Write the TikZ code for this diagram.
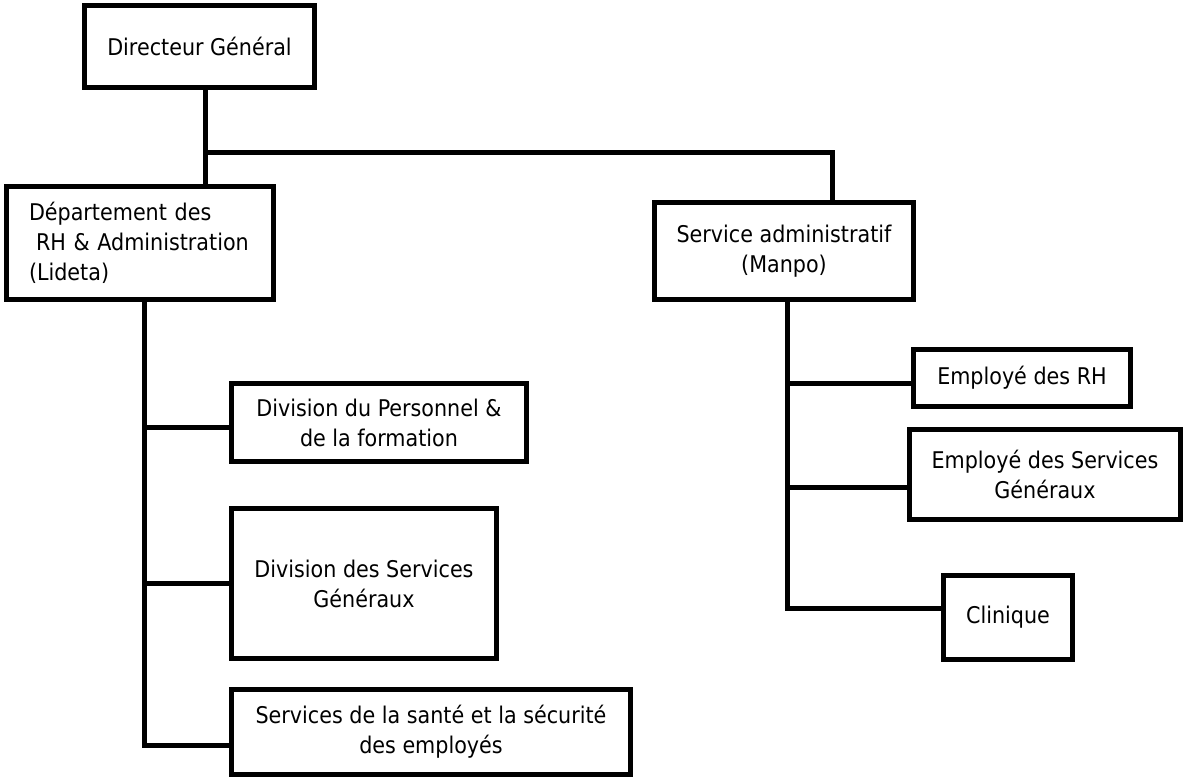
\documentclass[tikz,border=0pt]{standalone}
\usepackage{fontspec}
\setmainfont{DejaVu Sans Condensed}
\usetikzlibrary{calc}
\tikzset{
  box/.style={draw=black, line width=5pt, rectangle, align=center, inner sep=0pt,
    font=\fontsize{23}{30}\selectfont},
  link/.style={draw=black, line width=5pt}
}
\begin{document}
\begin{tikzpicture}[x=1pt,y=-1pt]
\useasboundingbox (0,0) rectangle (1184,779);
% nodes
\node[box, minimum width=230pt, minimum height=82pt] (dg) at (199.5,46.5) {Directeur Général};
\node[box, minimum width=267pt, minimum height=113pt, text width=222pt, inner xsep=22.5pt, align=left] (dept) at (140,243)
  {Département des\\\hspace*{7pt}RH \& Administration\\(Lideta)};
\node[box, minimum width=259pt, minimum height=97pt] (sa) at (784,251) {Service administratif\\(Manpo)};
\node[box, minimum width=295pt, minimum height=78pt] (dp) at (379,422.5) {Division du Personnel \&\\de la formation};
\node[box, minimum width=265pt, minimum height=150pt] (dsg) at (364,583.5) {Division des Services\\Généraux};
\node[box, minimum width=399pt, minimum height=85pt] (sse) at (431,732) {Services de la santé et la sécurité\\des employés};
\node[box, minimum width=217pt, minimum height=57pt] (erh) at (1022,378) {Employé des RH};
\node[box, minimum width=271pt, minimum height=90pt] (esg) at (1045,474.5) {Employé des Services\\Généraux};
\node[box, minimum width=129pt, minimum height=84pt] (cli) at (1008,617.5) {Clinique};
% junctions
\coordinate (j1) at (205,152);
\coordinate (j2) at (832,152);
\coordinate (d1) at (144,427);
\coordinate (d2) at (144,583);
\coordinate (d3) at (144,745);
\coordinate (s1) at (787,383);
\coordinate (s2) at (787,487);
\coordinate (s3) at (787,608);
% connectors
\draw[link] (dg.south -| j1) -- (dept.north -| j1);
\draw[link] (j1) -- (j2) -- (sa.north -| j2);
\draw[link] (dept.south -| d1) -- (d3) -- (sse.west |- d3);
\draw[link] (d1) -- (dp.west |- d1);
\draw[link] (d2) -- (dsg.west |- d2);
\draw[link] (sa.south -| s1) -- (s3) -- (cli.west |- s3);
\draw[link] (s1) -- (erh.west |- s1);
\draw[link] (s2) -- (esg.west |- s2);
\end{tikzpicture}
\end{document}
